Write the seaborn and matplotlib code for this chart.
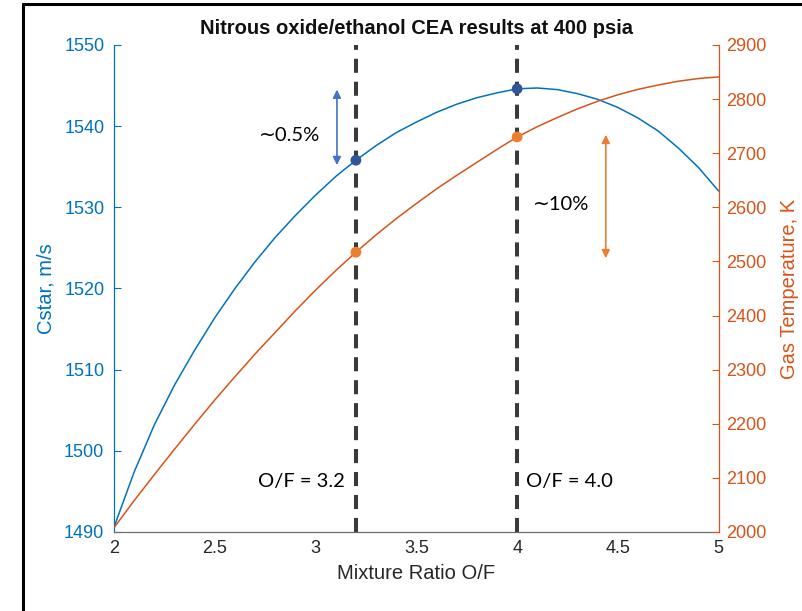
import numpy as np
import pandas as pd
import seaborn as sns
import matplotlib.pyplot as plt
from matplotlib.lines import Line2D

# Valeurs (pas de 0.1 sur O/F)
of_ratio = [2.0, 2.1, 2.2, 2.3, 2.4, 2.5, 2.6, 2.7, 2.8, 2.9,
            3.0, 3.1, 3.2, 3.3, 3.4, 3.5, 3.6, 3.7, 3.8, 3.9,
            4.0, 4.1, 4.2, 4.3, 4.4, 4.5, 4.6, 4.7, 4.8, 4.9, 5.0]
cstar = [1490.6, 1497.4, 1503.2, 1508.1, 1512.4, 1516.4, 1520.0, 1523.3, 1526.3, 1529.0,
         1531.5, 1533.8, 1535.8, 1537.6, 1539.2, 1540.5, 1541.7, 1542.7, 1543.5, 1544.1,
         1544.6, 1544.7, 1544.5, 1544.0, 1543.3, 1542.3, 1541.0, 1539.4, 1537.3, 1534.9, 1532.0]
gas_temp = [2008, 2058, 2106, 2153, 2199, 2244, 2287, 2329, 2369, 2409,
            2447, 2483, 2517, 2549, 2579, 2607, 2634, 2659, 2683, 2707,
            2730, 2749, 2766, 2782, 2796, 2808, 2818, 2826, 2833, 2838, 2841]

design_of = [3.2, 4.0]
design_cstar = [1535.8, 1544.6]
design_temp = [2517, 2730]

x_ticks = [2, 2.5, 3, 3.5, 4, 4.5, 5]
x_labels = ["2", "2.5", "3", "3.5", "4", "4.5", "5"]
cstar_ticks = [1490, 1500, 1510, 1520, 1530, 1540, 1550]
temp_ticks = [2000, 2100, 2200, 2300, 2400, 2500, 2600, 2700, 2800, 2900]

df = pd.DataFrame({"of": of_ratio, "cstar": cstar, "temp": gas_temp})
pts = pd.DataFrame({"of": design_of, "cstar": design_cstar, "temp": design_temp})

sns.set_style("white")
plt.rcParams["font.family"] = ["Liberation Sans", "DejaVu Sans"]

BLUE = "#0072BD"
ORANGE = "#D95319"
GREY = "#3a3a3a"

fig = plt.figure(figsize=(8.03, 6.11), dpi=100)
ax = fig.add_axes([0.142, 0.1293, 0.753, 0.7971])
ax2 = ax.twinx()

# lignes verticales pointillées
for xv in design_of:
    ax.axvline(xv, color=GREY, lw=2.9, ls=(0, (3.5, 2.2)), zorder=1)

sns.lineplot(data=df, x="of", y="cstar", ax=ax, color=BLUE, lw=1.1, zorder=3)
sns.lineplot(data=df, x="of", y="temp", ax=ax2, color=ORANGE, lw=1.1, zorder=3)
sns.scatterplot(data=pts, x="of", y="cstar", ax=ax, color="#2F5597", s=60,
                edgecolor="none", zorder=5)
sns.scatterplot(data=pts, x="of", y="temp", ax=ax2, color="#ED7D31", s=60,
                edgecolor="none", zorder=5)

# flèches
ax.annotate("", xy=(3.106, 1544.5), xytext=(3.106, 1535.2),
            arrowprops=dict(arrowstyle="<|-|>", color="#4472C4", lw=1.2,
                            mutation_scale=12, shrinkA=0, shrinkB=0))
ax2.annotate("", xy=(4.44, 2734), xytext=(4.44, 2506),
             arrowprops=dict(arrowstyle="<|-|>", color="#ED7D31", lw=1.2,
                             mutation_scale=12, shrinkA=0, shrinkB=0))

txt = dict(family=["Lato", "DejaVu Sans"], fontsize=14.5, color="black")
ax.text(3.021, 1538.9, "\u223c0.5%", ha="right", va="center", **txt)
ax.text(4.078, 1530.3, "\u223c10%", ha="left", va="center", **txt)
ax.text(3.145, 1496.2, "O/F = 3.2", ha="right", va="center", **txt)
ax.text(4.043, 1496.2, "O/F = 4.0", ha="left", va="center", **txt)

# axes
ax.set_xlim(2, 5)
ax.set_ylim(1490, 1550)
ax2.set_ylim(2000, 2900)
ax.set_xticks(x_ticks)
ax.set_xticklabels(x_labels)
ax.set_yticks(cstar_ticks)
ax2.set_yticks(temp_ticks)

ax.tick_params(axis="x", direction="in", length=5, width=0.8, colors="#6e6e6e",
               labelcolor="#262626", labelsize=13, pad=6)
ax.tick_params(axis="y", direction="in", length=5, width=0.8, colors=BLUE,
               labelsize=13, pad=7)
ax2.tick_params(axis="y", direction="in", length=5, width=0.8, colors=ORANGE,
                labelsize=13, pad=5)

ax.set_xlabel("Mixture Ratio O/F", fontsize=14.5, color="#262626", labelpad=5)
ax.set_ylabel("Cstar, m/s", fontsize=14.5, color=BLUE, labelpad=6)
ax2.set_ylabel("Gas Temperature, K", fontsize=14.5, color=ORANGE, labelpad=10)
ax.set_title("Nitrous oxide/ethanol CEA results at 400 psia", fontsize=14.5,
             fontweight="bold", color="#111111", pad=8)

ax.spines["top"].set_visible(False)
ax.spines["right"].set_visible(False)
ax.spines["left"].set_color(BLUE)
ax.spines["bottom"].set_color("#6e6e6e")
ax2.spines["top"].set_visible(False)
ax2.spines["left"].set_visible(False)
ax2.spines["bottom"].set_visible(False)
ax2.spines["right"].set_color(ORANGE)
for s in ["left", "bottom"]:
    ax.spines[s].set_linewidth(0.9)
ax2.spines["right"].set_linewidth(0.9)

# cadre de la diapositive
fx = 23 / 803
fy = 1 - 3.5 / 611
fig.add_artist(Line2D([fx, fx], [0, fy], transform=fig.transFigure, color="black", lw=2.2))
fig.add_artist(Line2D([fx, 1], [fy, fy], transform=fig.transFigure, color="black", lw=2.2))

fig.savefig("out.png", dpi=100)
